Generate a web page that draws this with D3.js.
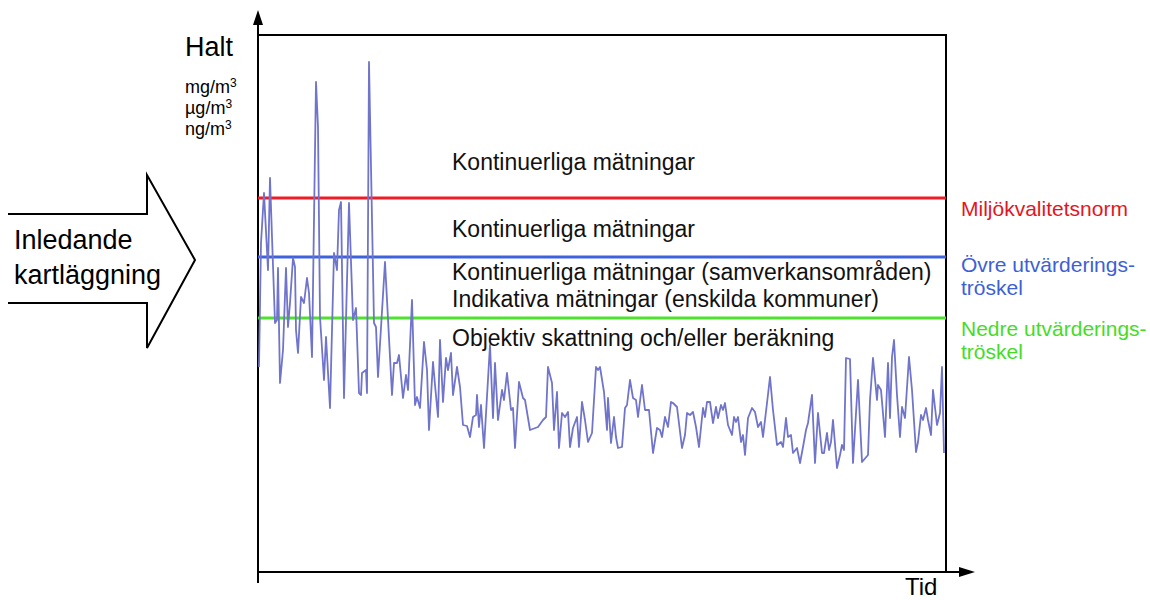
<!DOCTYPE html>
<meta charset="utf-8">
<script src="https://d3js.org/d3.v7.min.js"></script>
<style>
  body { margin: 0; background: #fff; }
  text { font-family: "Liberation Sans", Arial, sans-serif; }
</style>
<body>
  <div id="my_dataviz"></div>
  <script>

    var tid = [0,2,5,9,11,13,16,18,19,21,24,27,29,31,34,36,37,39,42,45,48,50,53,57,59,61,65,67,71,75,78,80,82,85,90,94,97,100,102,103,107,108,110,115,117,119,126,133,135,138,140,144,147,149,153,156,158,161,165,168,170,174,176,179,181,184,187,189,192,194,198,201,204,208,211,214,217,218,220,222,225,231,234,236,239,243,245,248,252,254,256,260,264,266,271,279,284,287,289,293,295,298,300,303,306,309,311,314,318,320,323,326,329,333,337,339,341,345,348,349,352,355,357,359,363,366,368,371,374,377,379,383,386,390,394,398,401,403,406,409,412,414,418,423,426,428,431,434,437,440,444,446,448,451,454,457,459,462,464,466,469,473,475,477,479,482,484,486,489,493,496,499,502,504,508,511,514,518,522,524,527,529,532,534,538,541,544,547,549,553,556,559,563,565,568,570,572,574,578,581,583,585,587,591,594,599,603,609,611,614,618,619,622,626,629,631,633,635,638,641,643,646,650,653,657,659,662,664,667,669,672,674,678,681,683,685];
    var halt = [205,329,379,302,394,335,249,252,304,189,222,304,245,269,314,305,242,219,275,269,294,279,215,490,445,255,192,235,164,319,302,362,370,174,369,252,264,179,177,199,202,179,510,249,245,195,310,177,209,209,217,174,197,182,272,167,175,164,230,202,142,210,187,155,232,170,214,202,219,177,205,185,147,146,135,155,157,177,145,167,124,227,154,209,152,182,172,199,162,164,124,190,174,172,142,145,152,155,205,189,142,180,124,159,155,160,125,144,155,125,170,152,130,139,205,202,205,180,142,174,129,155,135,124,125,164,167,192,174,172,155,187,162,162,119,144,142,135,155,145,170,169,165,124,137,159,157,160,145,125,164,155,170,170,149,165,154,167,162,169,147,137,155,150,155,130,137,117,154,164,160,145,150,135,169,195,162,127,130,125,154,135,137,119,124,109,125,142,149,177,109,159,119,119,139,122,130,152,104,117,127,122,214,213,109,192,110,117,172,214,172,187,182,135,209,154,215,232,177,135,165,154,215,182,120,130,157,152,164,152,137,182,147,159,205,119];

    // Threshold levels
    var nivaNamn = ["Miljökvalitetsnorm", "Övre utvärderings-|tröskel", "Nedre utvärderings-|tröskel"];
    var nivaVarde = [374, 315, 254];
    var nivaFarg = ["#ee1c25", "#3e62dc", "#4ee22e"];
    var textFarg = ["#e3161e", "#3d5fd6", "#45dc27"];

    // Texts inside the chart and the level they sit at
    var zonText = ["Kontinuerliga mätningar", "Kontinuerliga mätningar", "Kontinuerliga mätningar (samverkansområden)", "Indikativa mätningar (enskilda kommuner)", "Objektiv skattning och/eller beräkning"];
    var zonNiva = [402, 335, 292, 265, 226];

    // Units under the axis title
    var enheter = ["mg/m", "µg/m", "ng/m"];

    var width = 1150, height = 600;

    var svg = d3.select("#my_dataviz")
      .append("svg")
        .attr("width", width)
        .attr("height", height);

    var x = d3.scaleLinear().domain([0, 687]).range([259, 946]);
    var y = d3.scaleLinear().domain([0, 537]).range([572, 35]);

    var x0 = x.range()[0] - 1, x1 = x.range()[1], yb = y.range()[0], yt = y.range()[1];

    // Box top and right side
    svg.append("path")
      .attr("d", "M" + x0 + "," + yt + "H" + x1 + "V" + yb)
      .attr("fill", "none")
      .attr("stroke", "#000")
      .attr("stroke-width", 2);

    // Axes with arrow heads
    svg.append("line")
      .attr("x1", x0).attr("x2", x0)
      .attr("y1", yb + 11).attr("y2", 20)
      .attr("stroke", "#000").attr("stroke-width", 2);
    svg.append("path")
      .attr("d", "M" + x0 + ",10L" + (x0 - 5) + ",25L" + (x0 + 5) + ",25Z")
      .attr("fill", "#000");
    svg.append("line")
      .attr("x1", x0).attr("x2", 962)
      .attr("y1", yb).attr("y2", yb)
      .attr("stroke", "#000").attr("stroke-width", 2);
    svg.append("path")
      .attr("d", "M975," + yb + "L959," + (yb - 5) + "L959," + (yb + 5) + "Z")
      .attr("fill", "#000");

    // Threshold lines
    nivaVarde.forEach(function(v, i) {
      svg.append("line")
        .attr("x1", x0).attr("x2", x1)
        .attr("y1", y(v)).attr("y2", y(v))
        .attr("stroke", nivaFarg[i])
        .attr("stroke-width", 3);
    });

    // Measurement series
    var serie = tid.map(function(t, i) { return {t: t, v: halt[i]}; });
    svg.append("path")
      .datum(serie)
      .attr("fill", "none")
      .attr("stroke", "#7075cb")
      .attr("stroke-width", 1.8)
      .attr("stroke-linejoin", "round")
      .attr("d", d3.line()
        .x(function(d) { return x(d.t); })
        .y(function(d) { return y(d.v); })
      );

    // Zone texts
    zonText.forEach(function(s, i) {
      svg.append("text")
        .attr("x", 452)
        .attr("y", y(zonNiva[i]))
        .attr("font-size", 23)
        .attr("fill", "#111")
        .text(s);
    });

    // Threshold labels on the right
    var labelY = [[216], [272, 295], [336, 359]];
    nivaNamn.forEach(function(n, i) {
      n.split("|").forEach(function(part, j) {
        svg.append("text")
          .attr("x", 961)
          .attr("y", labelY[i][j])
          .attr("font-size", 21)
          .attr("fill", textFarg[i])
          .text(part);
      });
    });

    // Y axis title and units
    svg.append("text").attr("x", 185).attr("y", 56).attr("font-size", 27).text("Halt");
    enheter.forEach(function(u, i) {
      var t = svg.append("text").attr("x", 185).attr("y", 93 + i * 21).attr("font-size", 18);
      t.append("tspan").text(u);
      t.append("tspan").attr("font-size", 12).attr("dy", -6).text("3");
    });

    // X axis title
    svg.append("text").attr("x", 905).attr("y", 595).attr("font-size", 24).text("Tid");

    // Big outline arrow on the left
    svg.append("path")
      .attr("d", "M8,214H147V175L195,260L147,348V303H8")
      .attr("fill", "none")
      .attr("stroke", "#000")
      .attr("stroke-width", 2);
    svg.append("text").attr("x", 14).attr("y", 249).attr("font-size", 27).text("Inledande");
    svg.append("text").attr("x", 14).attr("y", 284).attr("font-size", 27).text("kartläggning");

  </script>
</body>
